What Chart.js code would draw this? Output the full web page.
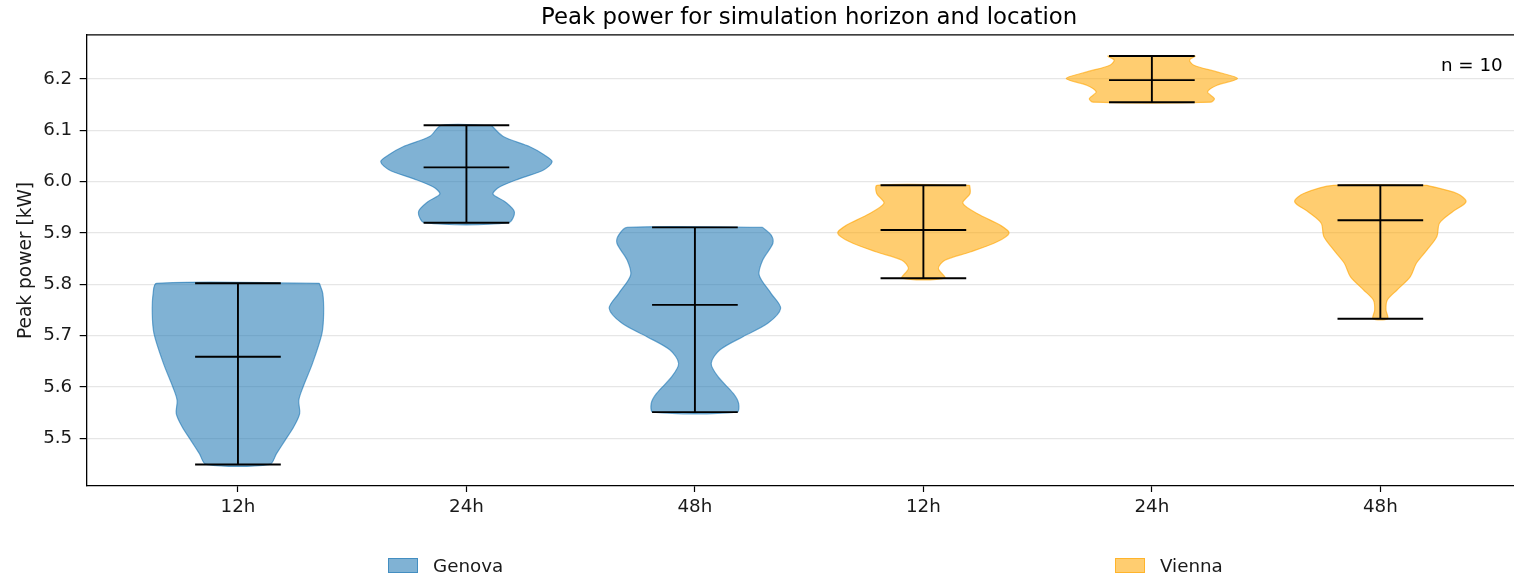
<!DOCTYPE html>
<html>
<head>
<meta charset="utf-8">
<title>Peak power</title>
<script src="https://cdn.jsdelivr.net/npm/chart.js@4.4.0/dist/chart.umd.min.js"></script>
<style>
  html, body { margin: 0; padding: 0; background: #fff; overflow: hidden; }
  #wrap { position: relative; width: 1560px; height: 577px; }
  .leg { position: absolute; top: 553px; height: 24px; display: flex; align-items: center;
         font: 18.3px 'DejaVu Sans'; color: #1a1a1a; }
  .leg .box { width: 30px; height: 15px; margin-right: 15px; box-sizing: border-box; }
</style>
</head>
<body>
<div id="wrap">
  <canvas id="violinChart" width="1560" height="577"></canvas>
  <div class="leg" style="left:388px"><span class="box" id="boxGenova"></span>Genova</div>
  <div class="leg" style="left:1115px"><span class="box" id="boxVienna"></span>Vienna</div>
</div>
<script>
// categorias e resumo
const horizons = ['12h', '24h', '48h'];
const locations = ['Genova', 'Vienna'];
const nRuns = 10;
const yTicks = [5.5, 5.6, 5.7, 5.8, 5.9, 6.0, 6.1, 6.2];

const genovaMin = [5.449, 5.920, 5.551];
const genovaMax = [5.802, 6.110, 5.911];
const genovaMean = [5.659, 6.028, 5.760];
const viennaMin = [5.812, 6.155, 5.733];
const viennaMax = [5.993, 6.245, 5.993];
const viennaMean = [5.906, 6.198, 5.925];

// perfis dos violinos: nivel (de cima para baixo) e largura relativa
const genova12Levels = [5.802, 5.782, 5.743, 5.704, 5.646, 5.600, 5.574, 5.548, 5.522, 5.496, 5.470, 5.449];
const genova12Width  = [0.95, 0.99, 1.00, 0.98, 0.87, 0.76, 0.71, 0.72, 0.65, 0.55, 0.45, 0.37];
const genova24Levels = [6.110, 6.088, 6.068, 6.052, 6.039, 6.023, 6.006, 5.990, 5.976, 5.961, 5.941, 5.920];
const genova24Width  = [0.29, 0.43, 0.74, 0.91, 1.00, 0.90, 0.62, 0.39, 0.31, 0.45, 0.56, 0.49];
const genova48Levels = [5.911, 5.896, 5.880, 5.847, 5.818, 5.782, 5.753, 5.724, 5.698, 5.672, 5.646, 5.620, 5.587, 5.568, 5.551];
const genova48Width  = [0.79, 0.89, 0.91, 0.79, 0.75, 0.89, 1.00, 0.85, 0.56, 0.29, 0.19, 0.27, 0.45, 0.51, 0.49];
const vienna12Levels = [5.993, 5.977, 5.958, 5.935, 5.915, 5.900, 5.883, 5.863, 5.847, 5.831, 5.812];
const vienna12Width  = [0.54, 0.545, 0.46, 0.66, 0.90, 1.00, 0.86, 0.545, 0.25, 0.175, 0.25];
const vienna24Levels = [6.245, 6.237, 6.227, 6.214, 6.201, 6.188, 6.175, 6.162, 6.155];
const vienna24Width  = [0.51, 0.44, 0.49, 0.76, 1.00, 0.76, 0.65, 0.73, 0.685];
const vienna48Levels = [5.993, 5.977, 5.961, 5.941, 5.919, 5.893, 5.867, 5.841, 5.815, 5.789, 5.769, 5.750, 5.733];
const vienna48Width  = [0.545, 0.895, 1.00, 0.84, 0.69, 0.66, 0.545, 0.42, 0.35, 0.195, 0.08, 0.066, 0.085];

const genovaLevels = [genova12Levels, genova24Levels, genova48Levels];
const genovaWidths = [genova12Width, genova24Width, genova48Width];
const viennaLevels = [vienna12Levels, vienna24Levels, vienna48Levels];
const viennaWidths = [vienna12Width, vienna24Width, vienna48Width];

const FONT = "'DejaVu Sans', sans-serif";
const halfWidth = 0.375;   // metade da largura do violino (widths=0.75)
const capHalf = 0.1875;
const colors = {
    Genova: { fill: 'rgba(31,119,180,0.57)', edge: 'rgba(31,119,180,0.62)' },
    Vienna: { fill: 'rgba(255,165,0,0.56)', edge: 'rgba(255,165,0,0.62)' }
};

document.getElementById('boxGenova').style.cssText += 'background:' + colors.Genova.fill + ';border:1px solid ' + colors.Genova.edge;
document.getElementById('boxVienna').style.cssText += 'background:' + colors.Vienna.fill + ';border:1px solid ' + colors.Vienna.edge;

function violinPoints(pos, levels, widths) {
    const right = levels.map((v, i) => ({ x: pos + widths[i] * halfWidth, y: v }));
    const left = levels.map((v, i) => ({ x: pos - widths[i] * halfWidth, y: v })).reverse();
    return right.concat(left, [right[0]]);
}

function linePoints(pos, min, max, mean) {
    const gap = { x: null, y: null };
    return [
        { x: pos - capHalf, y: max }, { x: pos + capHalf, y: max }, gap,
        { x: pos - capHalf, y: mean }, { x: pos + capHalf, y: mean }, gap,
        { x: pos - capHalf, y: min }, { x: pos + capHalf, y: min }, gap,
        { x: pos, y: min }, { x: pos, y: max }, gap
    ];
}

const datasets = [];
const series = [
    { name: 'Genova', levels: genovaLevels, widths: genovaWidths, min: genovaMin, max: genovaMax, mean: genovaMean },
    { name: 'Vienna', levels: viennaLevels, widths: viennaWidths, min: viennaMin, max: viennaMax, mean: viennaMean }
];
const tickPositions = [];
const tickLabels = [];
series.forEach(function(s, si) {
    let lines = [];
    horizons.forEach(function(h, hi) {
        const pos = si * horizons.length + hi + 1;
        tickPositions.push(pos);
        tickLabels.push(h);
        datasets.push({
            label: s.name + ' ' + h,
            data: violinPoints(pos, s.levels[hi], s.widths[hi]),
            backgroundColor: colors[s.name].fill,
            borderColor: colors[s.name].edge,
            borderWidth: 1.2,
            fill: 'shape',
            tension: 0.3,
            pointRadius: 0,
            order: 2
        });
        lines = lines.concat(linePoints(pos, s.min[hi], s.max[hi], s.mean[hi]));
    });
    datasets.push({
        label: s.name + ' lines',
        data: lines,
        borderColor: '#000',
        borderWidth: 1.9,
        fill: false,
        tension: 0,
        pointRadius: 0,
        spanGaps: false,
        order: 0
    });
});

// moldura superior e texto n
const frameAndNote = {
    id: 'frameAndNote',
    afterDraw(chart) {
        const { ctx, chartArea: a } = chart;
        ctx.save();
        ctx.strokeStyle = '#000';
        ctx.lineWidth = 1.3;
        ctx.beginPath();
        ctx.moveTo(a.left, a.top);
        ctx.lineTo(a.right, a.top);
        ctx.lineTo(a.right, a.bottom);
        ctx.stroke();
        ctx.font = '18.3px ' + FONT;
        ctx.fillStyle = '#000';
        ctx.textAlign = 'right';
        ctx.textBaseline = 'middle';
        ctx.fillText('n = ' + nRuns, a.left + 0.98 * (a.right - a.left), a.bottom - 0.93 * (a.bottom - a.top));
        ctx.restore();
    }
};

const ctx = document.getElementById('violinChart');
new Chart(ctx.getContext('2d'), {
    type: 'line',
    data: { datasets: datasets },
    plugins: [frameAndNote],
    options: {
        responsive: false,
        animation: false,
        layout: { padding: { left: 0, top: 0, right: 28.4, bottom: 0 } },
        plugins: {
            legend: { display: false },
            tooltip: { enabled: false },
            title: {
                display: true,
                text: 'Peak power for simulation horizon and location',
                fullSize: false,
                color: '#000',
                font: { family: FONT, size: 22.8, weight: 'normal' },
                padding: { top: 4, bottom: 3.6 }
            }
        },
        scales: {
            x: {
                type: 'linear',
                min: 0.338,
                max: 6.662,
                afterFit(scale) { scale.height = 91; },
                afterBuildTicks(scale) { scale.ticks = tickPositions.map(v => ({ value: v })); },
                grid: { drawOnChartArea: false, drawTicks: true, tickLength: 6, tickColor: '#000', tickWidth: 1.2 },
                border: { display: true, color: '#000', width: 1.3 },
                ticks: {
                    autoSkip: false, maxRotation: 0, padding: 4, color: '#1a1a1a',
                    font: { family: FONT, size: 18.3 },
                    callback: (v) => tickLabels[tickPositions.indexOf(v)]
                }
            },
            y: {
                type: 'linear',
                min: 5.407,
                max: 6.286,
                afterFit(scale) { scale.width = 86.7; },
                afterBuildTicks(scale) { scale.ticks = yTicks.map(v => ({ value: v })); },
                grid: { color: '#e6e6e6', lineWidth: 1.2, tickLength: 7, tickColor: '#000', tickWidth: 1.2 },
                border: { display: true, color: '#000', width: 1.3 },
                ticks: {
                    padding: 7.5, color: '#1a1a1a',
                    font: { family: FONT, size: 18.3 },
                    callback: (v) => v.toFixed(1)
                },
                title: {
                    display: true,
                    text: 'Peak power [kW]',
                    color: '#1a1a1a',
                    font: { family: FONT, size: 18.6 },
                    padding: { top: 15, bottom: 0 }
                }
            }
        }
    }
});
</script>
</body>
</html>
